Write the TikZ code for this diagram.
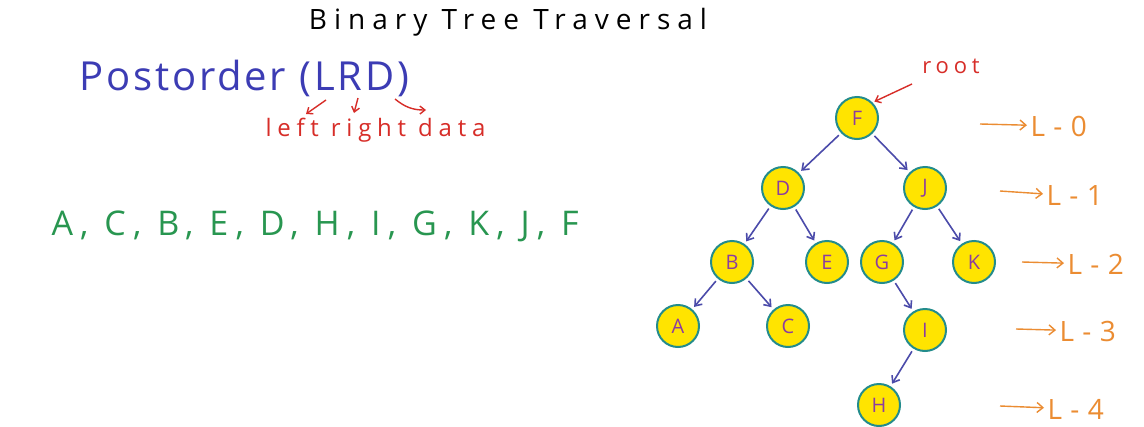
\documentclass[tikz,border=0pt]{standalone}
\usepackage{fontspec}
\setmainfont{Open Sans}
\usetikzlibrary{arrows.meta}
\definecolor{nodefill}{RGB}{255,228,0}
\definecolor{nodeline}{RGB}{35,140,140}
\definecolor{nodetext}{RGB}{140,60,160}
\definecolor{edgeblue}{RGB}{75,75,170}
\definecolor{seqgreen}{RGB}{40,150,80}
\definecolor{lvlorange}{RGB}{235,140,50}
\definecolor{notered}{RGB}{215,45,40}
\definecolor{headblue}{RGB}{60,60,180}

\newcommand{\handfont}[2]{\fontsize{#1}{#1}\selectfont\addfontfeature{LetterSpace=#2}}

\tikzset{
  treenode/.style={circle, fill=nodefill, draw=nodeline, line width=2pt,
    minimum size=42pt, inner sep=0pt, text=nodetext, font=\handfont{20}{0}},
  edge/.style={draw=edgeblue, line width=1.6pt, -{Straight Barb[length=6pt,width=9pt]},
    shorten >=3pt, shorten <=3pt},
  lvl/.style={text=lvlorange, font=\handfont{28}{30}, anchor=west},
  lvlarrow/.style={draw=lvlorange, line width=1.4pt, -{Straight Barb[length=6pt,width=10pt]}},
  note/.style={draw=notered, line width=1.4pt, -{Straight Barb[length=5pt,width=8pt]}}
}

\begin{document}
\begin{tikzpicture}[x=1pt, y=-1pt]
  \useasboundingbox[fill=white] (0,0) rectangle (1144,426);
  % title and heading
  \node[font=\handfont{28}{25}] (title) at (508,22) {Binary Tree Traversal};
  \node[text=headblue, font=\handfont{40}{7}, anchor=west] (post) at (76,78) {Postorder (LRD)};
  \node[text=notered, font=\handfont{24}{24}, anchor=west] (words) at (262,130) {left right data};
  \coordinate (sL) at (326,100);
  \coordinate (sR) at (358,98);
  \coordinate (sD) at (395,99);
  \coordinate (eL) at (306,114);
  \coordinate (eR) at (354,113);
  \coordinate (eD) at (426,110);
  \draw[note] (sL) -- (eL);
  \draw[note] (sR) -- (eR);
  \draw[note] (sD) to[bend right=20] (eD);
  % postorder result
  \node[text=seqgreen, font=\handfont{34}{21}, anchor=west] (seq) at (48,226)
    {A, C, B, E, D, H, I, G, K, J, F};

  % the tree
  \node[treenode] (F) at (857,118) {F};
  \node[treenode] (D) at (783,188) {D};
  \node[treenode] (J) at (925,188) {J};
  \node[treenode] (B) at (732,262) {B};
  \node[treenode] (E) at (827,262) {E};
  \node[treenode] (G) at (882,262) {G};
  \node[treenode] (K) at (974,262) {K};
  \node[treenode] (A) at (678,326) {A};
  \node[treenode] (C) at (788,326) {C};
  \node[treenode] (I) at (925,330) {I};
  \node[treenode] (H) at (879,405) {H};
  \draw[edge] (F) -- (D);
  \draw[edge] (F) -- (J);
  \draw[edge] (D) -- (B);
  \draw[edge] (D) -- (E);
  \draw[edge] (J) -- (G);
  \draw[edge] (J) -- (K);
  \draw[edge] (B) -- (A);
  \draw[edge] (B) -- (C);
  \draw[edge] (G) -- (I);
  \draw[edge] (I) -- (H);
  % root marker
  \node[text=notered, font=\handfont{22}{22}] (root) at (951,66) {root};
  \coordinate (rs) at (912,84);
  \draw[note, shorten >=2pt] (rs) -- (F.north east);

  % levels
  \node[lvl] (l0) at (1027,126) {L-0};
  \node[lvl] (l1) at (1043,196) {L-1};
  \node[lvl] (l2) at (1064,264) {L-2};
  \node[lvl] (l3) at (1056,331) {L-3};
  \node[lvl] (l4) at (1044,409) {L-4};
  \coordinate (a0) at (980,124);
  \coordinate (a1) at (1000,191);
  \coordinate (a2) at (1022,262);
  \coordinate (a3) at (1016,329);
  \coordinate (a4) at (1000,406);
  \draw[lvlarrow] (a0) -- (l0);
  \draw[lvlarrow] (a1) -- (l1);
  \draw[lvlarrow] (a2) -- (l2);
  \draw[lvlarrow] (a3) -- (l3);
  \draw[lvlarrow] (a4) -- (l4);
\end{tikzpicture}
\end{document}
